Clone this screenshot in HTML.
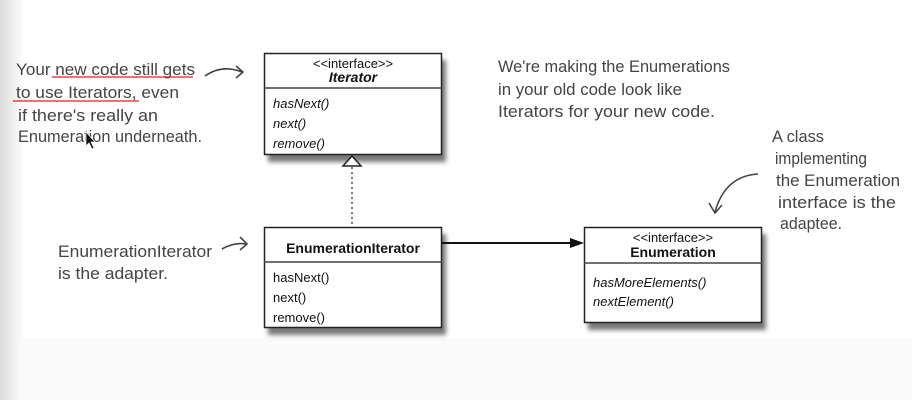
<!DOCTYPE html>
<html><head><style>
html,body{margin:0;padding:0;}
body{width:912px;height:400px;overflow:hidden;background:#fff;position:relative;font-family:"Liberation Sans",sans-serif;}
.bg{position:absolute;left:0;top:0;width:912px;height:400px;background:linear-gradient(to bottom,#fff 0,#fff 338px,#fafafa 338px,#fafafa 400px);}
.strip{position:absolute;left:0;top:0;width:22px;height:400px;background:linear-gradient(to right,#dcdcdc,#efefef 60%,#fbfbfb);}
</style></head><body>
<div class="bg"></div><div class="strip"></div>
<svg width="912" height="400" style="position:absolute;left:0;top:0" font-family="Liberation Sans, sans-serif">
<defs><filter id="sh" x="-10%" y="-10%" width="130%" height="140%"><feGaussianBlur stdDeviation="2.5"/></filter></defs>
<rect x="268" y="60" width="178" height="102" fill="#777" filter="url(#sh)"/>
<rect x="268" y="234" width="178" height="101" fill="#777" filter="url(#sh)"/>
<rect x="588" y="234" width="178" height="96" fill="#777" filter="url(#sh)"/>
<rect x="264.5" y="53.5" width="177" height="101" fill="#fff" stroke="#222" stroke-width="1.5"/>
<line x1="264" y1="88" x2="442" y2="88" stroke="#444" stroke-width="1.5"/>
<text x="353" y="68" font-size="13" text-anchor="middle" fill="#111">&lt;&lt;interface&gt;&gt;</text>
<text x="353" y="82" font-size="14" font-weight="bold" font-style="italic" text-anchor="middle" fill="#111">Iterator</text>
<text x="273" y="108" font-size="13" font-style="italic" fill="#111">hasNext()</text>
<text x="273" y="128" font-size="13" font-style="italic" fill="#111">next()</text>
<text x="273" y="148" font-size="13" font-style="italic" fill="#111">remove()</text>
<line x1="352" y1="167" x2="352" y2="226" stroke="#222" stroke-width="1.2" stroke-dasharray="2,3"/>
<polygon points="352,156 343,166 361,166" fill="#fff" stroke="#222" stroke-width="1.5"/>
<rect x="264.5" y="227.5" width="177" height="100" fill="#fff" stroke="#222" stroke-width="1.5"/>
<line x1="264" y1="262" x2="442" y2="262" stroke="#444" stroke-width="1.5"/>
<text x="353" y="253" font-size="14" font-weight="bold" text-anchor="middle" fill="#111">EnumerationIterator</text>
<text x="273" y="282" font-size="13" fill="#111">hasNext()</text>
<text x="273" y="302" font-size="13" fill="#111">next()</text>
<text x="273" y="322" font-size="13" fill="#111">remove()</text>
<line x1="442" y1="243" x2="574" y2="243" stroke="#111" stroke-width="2"/>
<polygon points="584,243 570,238 570,248" fill="#111"/>
<rect x="584.5" y="227.5" width="177" height="95" fill="#fff" stroke="#222" stroke-width="1.5"/>
<line x1="584" y1="263" x2="762" y2="263" stroke="#444" stroke-width="1.5"/>
<text x="673" y="242" font-size="13" text-anchor="middle" fill="#111">&lt;&lt;interface&gt;&gt;</text>
<text x="673" y="257" font-size="14" font-weight="bold" text-anchor="middle" fill="#111">Enumeration</text>
<text x="593" y="287" font-size="13" font-style="italic" fill="#111">hasMoreElements()</text>
<text x="593" y="306" font-size="13" font-style="italic" fill="#111">nextElement()</text>
<g font-size="16.5" fill="#444">
<text x="16" y="75" textLength="179" lengthAdjust="spacingAndGlyphs">Your new code still gets</text>
<text x="16" y="98" textLength="163" lengthAdjust="spacingAndGlyphs">to use Iterators, even</text>
<text x="18" y="121" textLength="140" lengthAdjust="spacingAndGlyphs">if there's really an</text>
<text x="18" y="142" textLength="184" lengthAdjust="spacingAndGlyphs">Enumeration underneath.</text>
<text x="58" y="257" textLength="154" lengthAdjust="spacingAndGlyphs">EnumerationIterator</text>
<text x="58" y="279" textLength="110" lengthAdjust="spacingAndGlyphs">is the adapter.</text>
<text x="498" y="72" textLength="232" lengthAdjust="spacingAndGlyphs">We're making the Enumerations</text>
<text x="498" y="95" textLength="184" lengthAdjust="spacingAndGlyphs">in your old code look like</text>
<text x="498" y="117" textLength="217" lengthAdjust="spacingAndGlyphs">Iterators for your new code.</text>
<text x="772" y="142" textLength="52" lengthAdjust="spacingAndGlyphs">A class</text>
<text x="775" y="164" textLength="92" lengthAdjust="spacingAndGlyphs">implementing</text>
<text x="776" y="186" textLength="124" lengthAdjust="spacingAndGlyphs">the Enumeration</text>
<text x="778" y="208" textLength="118" lengthAdjust="spacingAndGlyphs">interface is the</text>
<text x="780" y="229" textLength="62" lengthAdjust="spacingAndGlyphs">adaptee.</text>
</g>
<line x1="52" y1="77" x2="193" y2="77" stroke="#e02020" stroke-width="1.3"/>
<line x1="13" y1="101" x2="139" y2="101" stroke="#e02020" stroke-width="1.3"/>
<g fill="none" stroke="#444" stroke-width="1.6">
<path d="M205,76 Q222,64 242,72"/><path d="M236,66 L243,72 L236,78"/>
<path d="M222,249 Q234,242 246,244"/><path d="M240,237 L247,244 L240,250"/>
<path d="M758,174 Q725,176 715,212"/><path d="M709,203 L715,213 L722,205"/>
</g>
<path d="M86,132 L86,146 L89,143 L92,149 L94,148 L91,142 L95,142 Z" fill="#111" stroke="#fff" stroke-width="0.7"/>
</svg>
</body></html>
